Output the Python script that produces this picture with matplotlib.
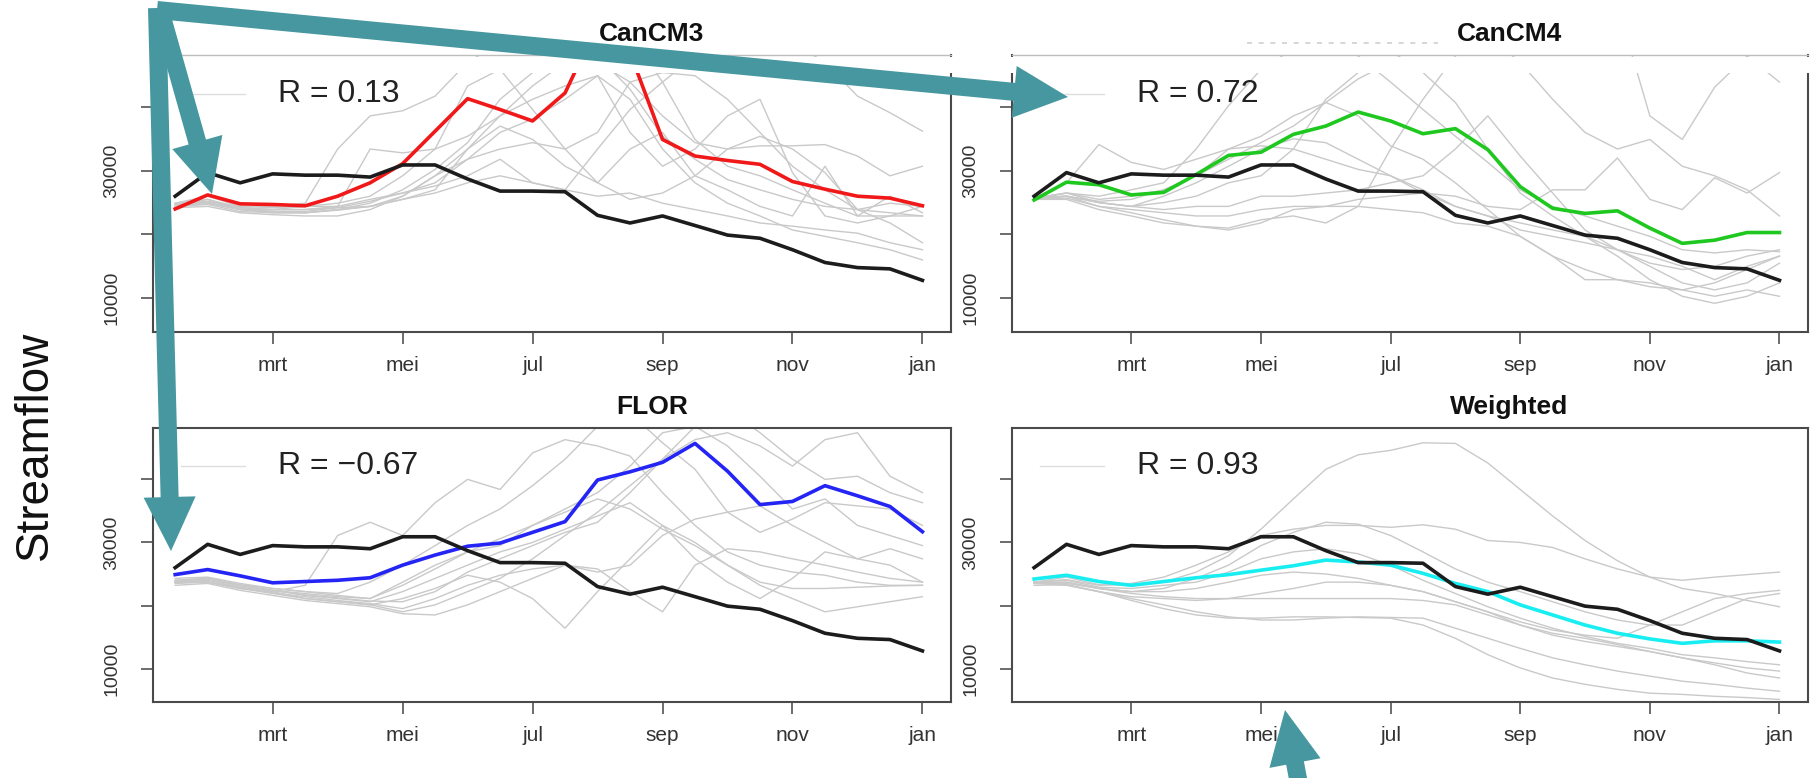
import numpy as np
import matplotlib
matplotlib.use("Agg")
from matplotlib import pyplot as plt
from matplotlib.patches import FancyArrow, Rectangle

plt.rcParams['font.family'] = ['Liberation Sans', 'DejaVu Sans']

# semi-monthly steps, mid-Jan .. Jan next year (month number)
t = np.arange(1.5, 13.01, 0.5)
month_ticks = [3, 5, 7, 9, 11, 13]
month_labels = ['mrt', 'mei', 'jul', 'sep', 'nov', 'jan']

# all flows in thousands
obs = [26.0, 29.7, 28.1, 29.5, 29.3, 29.3, 29.0, 30.9, 30.9, 28.7, 26.8, 26.8,
       26.7, 23.0, 21.8, 22.9, 21.4, 19.9, 19.4, 17.6, 15.6, 14.8, 14.6, 12.8]

cancm3 = [24.0, 26.2, 24.8, 24.7, 24.5, 26.0, 28.1, 31.1, 36.2, 41.3, 39.6, 37.8,
          42.2, 53.0, 48.5, 34.9, 32.3, 31.6, 31.0, 28.3, 27.1, 26.0, 25.7, 24.5]
cancm4 = [25.4, 28.2, 27.8, 26.2, 26.6, 29.4, 32.4, 32.9, 35.7, 37.0, 39.2, 37.8,
          35.8, 36.6, 33.3, 27.5, 24.1, 23.3, 23.7, 21.0, 18.6, 19.1, 20.3, 20.3]
flor = [24.9, 25.7, 24.7, 23.6, 23.8, 24.0, 24.4, 26.4, 28.0, 29.4, 29.9, 31.6,
        33.3, 39.9, 41.2, 42.7, 45.7, 41.3, 36.0, 36.5, 39.0, 37.4, 35.7, 31.7]
weighted = [24.2, 24.8, 23.8, 23.2, 23.8, 24.4, 24.9, 25.6, 26.3, 27.2, 26.9, 26.4,
            25.1, 23.5, 22.2, 20.1, 18.5, 16.9, 15.6, 14.7, 14.0, 14.4, 14.4, 14.2]

cancm3_members = [
    [24.9, 26.0, 24.4, 24.4, 24.9, 33.4, 38.6, 39.4, 41.7, 47.0, 50.1, 52.2, 51.7, 48.0, 42.8, 35.4, 31.8, 28.6, 27.0, 25.5, 24.4, 23.9, 23.4, 22.9],
    [24.4, 25.5, 23.9, 23.9, 24.4, 24.4, 33.4, 32.8, 33.4, 35.4, 38.6, 41.2, 43.3, 44.9, 41.2, 33.4, 28.1, 24.9, 22.9, 20.7, 19.7, 18.7, 17.6, 16.0],
    [24.7, 25.2, 24.4, 24.2, 24.4, 24.9, 26.0, 29.2, 33.4, 43.3, 45.9, 39.6, 33.4, 28.1, 25.5, 26.5, 29.2, 33.4, 35.4, 33.4, 29.7, 23.9, 21.8, 18.7],
    [24.4, 24.9, 23.9, 23.4, 23.4, 23.9, 24.4, 25.5, 27.0, 33.4, 38.6, 43.3, 47.0, 50.7, 51.2, 43.9, 34.9, 30.7, 29.2, 27.0, 24.9, 22.9, 22.9, 24.4],
    [24.9, 25.5, 24.2, 23.9, 23.9, 24.4, 25.5, 26.5, 28.1, 31.8, 36.0, 38.1, 41.2, 44.9, 36.0, 30.7, 33.4, 38.6, 41.2, 29.7, 22.9, 21.8, 22.9, 22.9],
    [24.2, 24.4, 23.4, 23.1, 22.9, 22.9, 23.9, 26.0, 29.2, 33.4, 37.0, 34.9, 30.7, 28.1, 33.4, 36.0, 29.2, 27.0, 24.4, 22.9, 30.7, 22.9, 26.0, 23.4],
    [24.4, 24.7, 23.6, 23.4, 23.4, 23.9, 24.9, 27.0, 30.2, 34.4, 41.2, 45.4, 47.5, 47.0, 43.9, 38.6, 34.4, 33.4, 33.9, 33.9, 34.1, 32.3, 29.2, 30.7],
    [24.7, 24.9, 23.9, 23.6, 23.6, 24.2, 25.2, 26.5, 27.6, 29.2, 31.8, 28.1, 27.0, 33.4, 39.6, 43.9, 48.0, 50.1, 51.7, 50.1, 47.0, 41.7, 39.1, 36.2],
    [24.4, 24.9, 24.2, 23.9, 23.9, 24.2, 24.4, 25.5, 26.5, 28.1, 29.2, 28.1, 27.0, 26.0, 26.5, 24.9, 23.9, 22.9, 21.8, 21.3, 20.7, 20.2, 18.7, 17.6],
    [24.7, 25.1, 24.0, 23.6, 23.4, 23.8, 24.4, 26.0, 29.2, 31.8, 33.4, 34.4, 33.4, 36.0, 43.9, 45.4, 44.9, 41.2, 36.0, 30.7, 27.0, 23.9, 24.9, 24.4],
]

cancm4_members = [
    [25.7, 28.1, 34.1, 31.3, 30.2, 31.8, 33.4, 33.9, 33.4, 31.8, 30.2, 29.2, 27.0, 24.4, 22.9, 21.8, 20.7, 19.7, 17.6, 15.5, 14.5, 15.0, 16.6, 17.6],
    [25.5, 26.5, 26.0, 27.0, 28.1, 33.4, 40.2, 45.9, 49.1, 51.7, 48.0, 43.9, 39.6, 35.4, 31.3, 27.0, 24.4, 22.9, 21.3, 19.7, 17.6, 17.1, 17.6, 17.3],
    [25.7, 26.5, 25.5, 26.0, 27.0, 29.2, 33.4, 35.4, 38.6, 40.7, 38.6, 33.9, 31.8, 28.1, 23.9, 19.7, 16.6, 14.5, 12.9, 11.8, 11.3, 12.4, 14.5, 16.6],
    [25.5, 26.0, 25.0, 24.4, 25.0, 26.0, 28.1, 29.2, 33.4, 41.2, 45.4, 47.0, 45.4, 40.7, 33.4, 26.5, 22.9, 19.7, 16.6, 12.9, 10.3, 9.2, 10.3, 12.4],
    [25.7, 26.0, 25.0, 24.4, 23.9, 24.4, 24.4, 26.0, 26.0, 26.5, 27.0, 28.1, 29.2, 33.4, 38.6, 32.3, 26.5, 20.7, 17.6, 15.0, 12.4, 11.3, 12.4, 15.5],
    [25.5, 25.7, 24.4, 23.9, 23.4, 22.9, 22.9, 23.9, 24.4, 24.4, 24.4, 23.9, 23.4, 21.8, 21.3, 19.7, 16.6, 12.9, 12.9, 12.4, 11.3, 10.3, 11.3, 10.3],
    [25.7, 26.0, 24.4, 23.4, 22.3, 21.3, 21.0, 22.3, 22.9, 21.8, 24.4, 33.4, 41.2, 48.0, 51.2, 47.0, 41.2, 36.0, 33.4, 34.9, 30.7, 29.2, 27.0, 22.9],
    [25.5, 25.5, 23.9, 22.9, 21.8, 21.3, 20.7, 21.8, 23.9, 24.4, 25.5, 26.0, 26.5, 26.0, 24.4, 23.9, 27.0, 27.0, 32.0, 25.5, 23.9, 28.9, 26.5, 29.7],
    [25.7, 26.5, 25.0, 24.4, 26.0, 28.1, 30.7, 33.4, 35.0, 34.4, 31.8, 29.2, 26.5, 24.4, 22.9, 20.7, 19.7, 18.7, 17.6, 16.6, 15.0, 12.9, 15.0, 16.6],
    [25.7, 26.0, 25.2, 25.5, 27.0, 29.2, 31.8, 34.4, 37.0, 40.7, 44.4, 47.0, 50.5, 53.0, 54.0, 53.0, 52.0, 51.0, 56.0, 38.6, 34.9, 43.1, 48.0, 43.9],
]

flor_members = [
    [23.7, 23.7, 22.7, 22.2, 23.2, 31.1, 33.2, 31.1, 36.3, 40.0, 38.4, 44.2, 46.3, 45.3, 43.7, 37.9, 32.7, 28.5, 26.4, 25.3, 24.8, 23.7, 23.2, 23.2],
    [24.3, 24.5, 23.5, 22.7, 22.2, 21.6, 21.1, 23.2, 25.8, 28.5, 29.5, 32.7, 35.3, 37.9, 42.1, 47.4, 48.4, 45.3, 40.5, 35.3, 36.9, 32.7, 31.1, 29.5],
    [23.7, 24.0, 22.9, 22.2, 21.1, 20.6, 20.1, 19.0, 20.1, 22.2, 24.3, 27.4, 31.1, 34.8, 39.0, 43.2, 46.3, 47.4, 45.3, 42.1, 46.3, 47.4, 40.5, 37.9],
    [23.2, 23.5, 22.4, 21.6, 20.8, 20.3, 19.8, 18.7, 18.5, 20.1, 22.2, 24.3, 26.4, 25.8, 22.2, 19.0, 26.4, 29.0, 28.5, 27.4, 26.4, 25.3, 24.3, 23.7],
    [24.0, 24.3, 23.2, 22.4, 21.9, 21.4, 21.1, 23.7, 26.4, 28.5, 30.6, 32.7, 34.8, 36.9, 35.3, 32.1, 29.5, 26.4, 23.7, 22.7, 22.7, 22.9, 23.1, 23.2],
    [23.5, 23.7, 22.7, 21.9, 21.1, 20.6, 20.1, 21.1, 22.7, 24.8, 23.7, 21.1, 16.4, 22.2, 27.4, 32.7, 30.0, 26.4, 23.2, 21.1, 19.0, 19.8, 20.6, 21.4],
    [23.7, 24.2, 23.2, 22.4, 21.6, 21.1, 20.6, 22.2, 24.3, 26.4, 28.5, 30.0, 32.1, 34.2, 36.3, 32.7, 27.4, 23.7, 21.1, 24.3, 28.5, 27.4, 29.0, 27.4],
    [23.8, 24.2, 23.1, 22.4, 21.7, 21.2, 20.7, 20.6, 22.2, 25.3, 27.4, 29.5, 31.6, 33.2, 37.9, 43.2, 48.4, 51.0, 47.4, 43.2, 40.0, 40.5, 37.9, 36.3],
    [23.6, 23.8, 22.8, 22.0, 21.4, 20.8, 20.3, 19.5, 21.1, 23.2, 24.8, 25.8, 26.4, 25.3, 26.4, 31.1, 33.7, 34.8, 35.8, 32.7, 30.0, 27.4, 26.4, 23.7],
    [24.0, 24.3, 23.3, 22.7, 22.2, 21.9, 23.7, 26.4, 29.5, 32.7, 35.3, 39.0, 43.2, 48.4, 50.5, 45.8, 41.6, 34.8, 31.6, 33.7, 36.3, 35.8, 35.3, 32.7],
]

weighted_members = [
    [23.7, 24.5, 23.3, 23.2, 23.7, 25.3, 27.9, 32.1, 36.9, 41.6, 43.9, 44.6, 45.8, 45.7, 42.6, 38.4, 34.2, 30.3, 27.1, 24.5, 22.7, 21.9, 20.8, 19.8],
    [23.7, 24.1, 23.2, 23.5, 24.5, 26.4, 28.5, 31.1, 32.1, 32.7, 32.7, 32.4, 32.8, 32.1, 30.3, 30.0, 29.2, 27.4, 25.8, 24.5, 24.0, 24.5, 24.9, 25.3],
    [23.5, 23.7, 22.7, 22.2, 22.7, 24.3, 26.4, 29.5, 31.6, 33.2, 32.9, 31.1, 28.5, 25.8, 23.7, 22.2, 20.6, 19.0, 17.7, 16.9, 16.9, 19.0, 21.1, 21.9],
    [23.7, 24.0, 22.9, 22.7, 23.2, 23.7, 25.3, 27.4, 28.5, 29.0, 28.2, 26.4, 24.0, 21.9, 19.8, 18.0, 16.4, 15.1, 14.0, 13.2, 12.2, 11.7, 11.1, 10.6],
    [23.2, 23.3, 22.2, 21.4, 21.1, 20.8, 21.1, 21.9, 22.7, 23.7, 23.7, 23.2, 22.2, 20.6, 19.0, 16.9, 15.3, 14.3, 13.5, 12.7, 11.7, 10.9, 10.1, 9.6],
    [23.7, 23.7, 22.7, 21.9, 21.4, 21.1, 21.1, 21.1, 21.1, 21.1, 21.1, 21.1, 20.8, 20.1, 18.5, 16.9, 15.6, 14.8, 13.8, 12.7, 11.7, 10.6, 9.3, 8.5],
    [23.5, 23.2, 22.2, 21.1, 20.1, 19.0, 18.2, 17.7, 17.7, 18.0, 18.2, 18.1, 18.0, 16.4, 14.8, 13.2, 11.7, 10.6, 9.6, 8.8, 8.0, 7.5, 6.9, 6.4],
    [23.7, 23.3, 22.2, 20.8, 19.5, 18.5, 18.0, 18.0, 18.2, 18.2, 18.1, 18.0, 16.9, 14.8, 12.2, 10.1, 8.5, 7.5, 6.7, 6.1, 5.9, 5.6, 5.4, 5.1],
    [23.7, 23.5, 22.7, 22.2, 22.2, 22.7, 23.7, 24.8, 25.3, 25.0, 24.3, 23.2, 22.2, 20.6, 19.0, 17.4, 16.1, 15.3, 14.8, 16.9, 19.0, 21.1, 21.9, 22.4],
]

panels = [
    ("CanCM3", "R = 0.13", cancm3, cancm3_members, "#f01818"),
    ("CanCM4", "R = 0.72", cancm4, cancm4_members, "#1ec81e"),
    ("FLOR", "R = \u22120.67", flor, flor_members, "#2424f4"),
    ("Weighted", "R = 0.93", weighted, weighted_members, "#18eef2"),
]

# axes boxes in figure fractions (left, bottom, width, height)
boxes = [
    [0.0843, 0.5733, 0.4394, 0.3560],
    [0.5573, 0.5733, 0.4383, 0.3560],
    [0.0843, 0.0977, 0.4394, 0.3522],
    [0.5573, 0.0977, 0.4383, 0.3522],
]

TEAL = "#46979f"


def draw_panel(ax, title, rtxt, fc, members, col, top_row):
    k = 1000.0
    for m in members:
        ax.plot(t, np.array(m) * k, color="#c9c9c9", lw=1.0, zorder=1)
    ax.plot(t, np.array(fc) * k, color=col, lw=2.6, zorder=3)
    ax.plot(t, np.array(obs) * k, color="#1c1c1c", lw=2.6, zorder=4)

    ax.set_xlim(1.16, 13.44)
    ax.set_ylim(4700, 48150)
    ax.set_xticks(month_ticks)
    ax.set_xticklabels(month_labels)
    ax.set_yticks([10000, 20000, 30000, 40000])
    ax.set_yticklabels(["10000", "", "30000", ""], rotation=90, va="center")
    ax.tick_params(axis="x", length=8.5, width=1.1, color="#444444",
                   labelsize=15, labelcolor="#333333", pad=9)
    ax.tick_params(axis="y", length=8.5, width=1.1, color="#444444",
                   labelsize=14, labelcolor="#333333", pad=15)
    for s in ax.spines.values():
        s.set_color("#4a4a4a")
        s.set_linewidth(1.5)
    if top_row:
        ax.spines["top"].set_color("#bdbdbd")
        ax.spines["top"].set_linewidth(1.0)

    # legend-ish line + correlation text
    ax.plot([0.035, 0.115], [0.86, 0.86], color="#dddddd", lw=1.0,
            transform=ax.transAxes, zorder=5)
    ax.text(0.157, 0.86, rtxt, transform=ax.transAxes, fontsize=23,
            color="#222222", va="center", ha="left", zorder=5)
    ax.text(0.625, 1.0 + 21.0 / (ax.get_position().height * 778), title,
            transform=ax.transAxes, fontsize=19, fontweight="bold",
            color="#111111", ha="center", va="center")


fig = plt.figure(figsize=(18.16, 7.78), dpi=100)
for i, (title, rtxt, fc, members, col) in enumerate(panels):
    ax = fig.add_axes(boxes[i])
    draw_panel(ax, title, rtxt, fc, members, col, i < 2)

fig.text(0.019, 0.427, "Streamflow", rotation=90, fontsize=33,
         ha="center", va="center", color="#111111")

# overlay in pixel units for the slide annotations
ov = fig.add_axes([0, 0, 1, 1], zorder=10)
ov.set_xlim(0, 1816)
ov.set_ylim(778, 0)
ov.axis("off")
ov.patch.set_alpha(0)

# white strip hiding the top of the upper panels
ov.add_patch(Rectangle((150, 57), 1665, 16, facecolor="white", edgecolor="none"))
# faint remains of a hidden title next to CanCM4
ov.plot([1247, 1438], [43, 43], color="#cfcfcf", lw=1.2, ls=(0, (3, 4)))

arrows = [
    ((157, 10), (1068, 97)),
    ((160, 10), (212, 194)),
    ((157, 8), (171, 551)),
    ((1302, 800), (1285, 710)),
]
for (x0, y0), (x1, y1) in arrows:
    ov.add_patch(FancyArrow(x0, y0, x1 - x0, y1 - y0, width=18, head_width=52,
                            head_length=54, length_includes_head=True,
                            facecolor=TEAL, edgecolor="none"))

fig.savefig("out.png", dpi=100)
